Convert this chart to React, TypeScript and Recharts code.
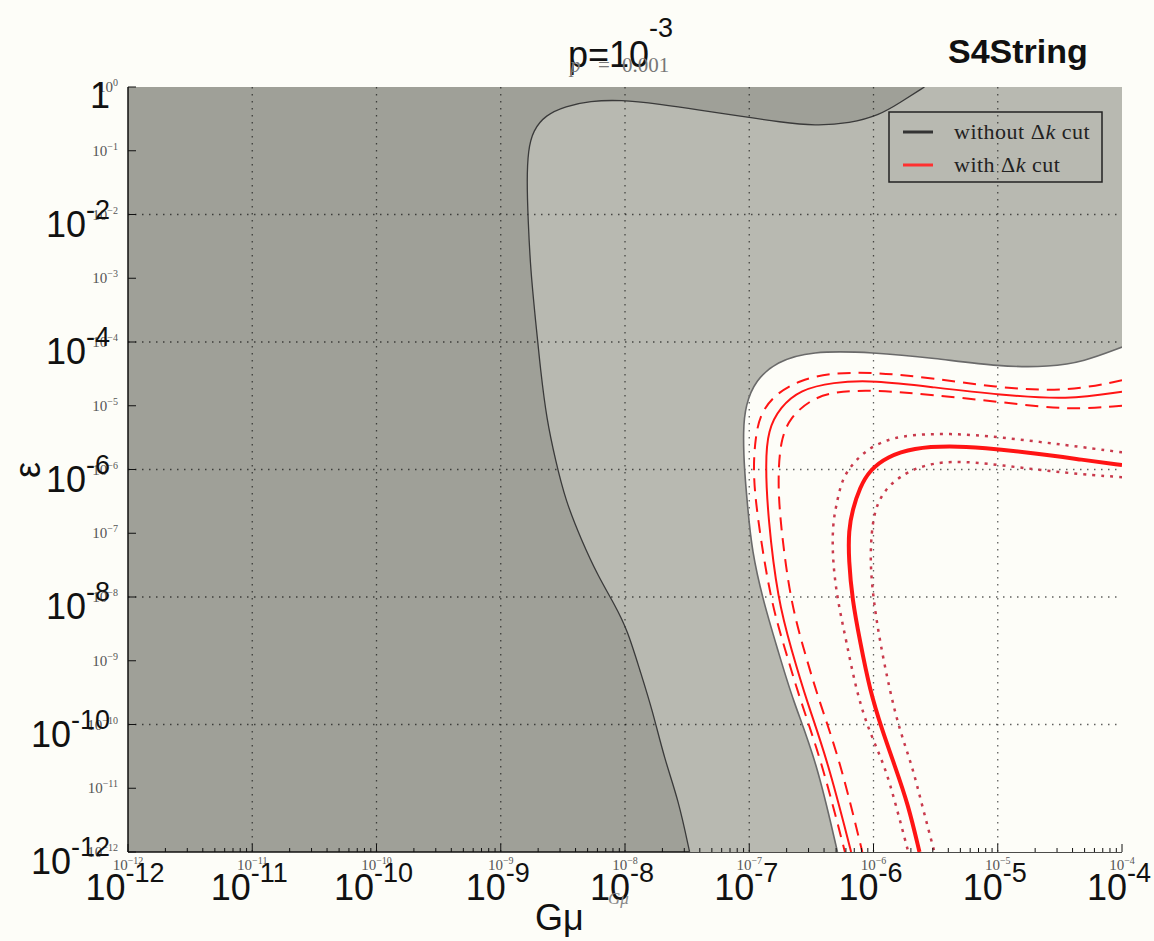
import React from 'react';
import { ScatterChart, Scatter, XAxis, YAxis, CartesianGrid, Curve } from 'recharts';

const W = 1154;
const H = 941;
const DARK = '#9fa098';
const LIGHT = '#b8b9b1';
const PAPER = '#fdfdf8';
const RED = '#ff1414';
const DOTRED = '#c93a4c';
const SANS = "'Liberation Sans', Arial, sans-serif";
const SERIF = "'Liberation Serif', 'Times New Roman', serif";

if (typeof document !== 'undefined') {
  document.body.style.margin = '0';
  document.body.style.background = PAPER;
}

// axes are in log10 units: x = log10(Gμ), y = log10(ε)
const X_MIN = -12;
const X_MAX = -4;
const Y_MIN = -12;
const Y_MAX = 0;
const X_MAJOR = [-12, -11, -10, -9, -8, -7, -6, -5, -4];
const Y_MAJOR = [0, -1, -2, -3, -4, -5, -6, -7, -8, -9, -10, -11, -12];
const X_GRID = [-11, -10, -9, -8, -7, -6, -5];
const Y_GRID = [-2, -4, -6, -8, -10];
const MINOR_FACTORS = [2, 3, 4, 5, 6, 7, 8, 9];
const X_MINOR = X_MAJOR.slice(0, -1).flatMap((d) => MINOR_FACTORS.map((f) => d + Math.log10(f)));
const X_TICKS = [...X_MAJOR, ...X_MINOR];

// boundary of the region allowed without the Δk cut
const NO_CUT_EDGE = [
  { x: -5.59, y: 0 }, { x: -5.79, y: -0.25 }, { x: -5.95, y: -0.44 }, { x: -6.19, y: -0.57 },
  { x: -6.47, y: -0.61 }, { x: -6.75, y: -0.55 }, { x: -7.07, y: -0.46 }, { x: -7.4, y: -0.36 },
  { x: -7.72, y: -0.27 }, { x: -8.04, y: -0.2 }, { x: -8.28, y: -0.22 }, { x: -8.48, y: -0.3 },
  { x: -8.64, y: -0.44 }, { x: -8.74, y: -0.68 }, { x: -8.78, y: -0.99 }, { x: -8.79, y: -1.46 },
  { x: -8.78, y: -2.09 }, { x: -8.76, y: -2.87 }, { x: -8.72, y: -3.66 }, { x: -8.68, y: -4.44 },
  { x: -8.63, y: -5.22 }, { x: -8.56, y: -5.85 }, { x: -8.48, y: -6.48 }, { x: -8.35, y: -7.11 },
  { x: -8.22, y: -7.66 }, { x: -8.08, y: -8.13 }, { x: -7.98, y: -8.52 }, { x: -7.88, y: -9.15 },
  { x: -7.78, y: -9.77 }, { x: -7.68, y: -10.56 }, { x: -7.57, y: -11.18 }, { x: -7.48, y: -12 },
];

// boundary of the white region
const CUT_EDGE = [
  { x: -4, y: -4.08 }, { x: -4.31, y: -4.31 }, { x: -4.58, y: -4.39 }, { x: -4.98, y: -4.39 },
  { x: -5.52, y: -4.25 }, { x: -6.0, y: -4.16 }, { x: -6.51, y: -4.14 }, { x: -6.78, y: -4.31 },
  { x: -6.95, y: -4.6 }, { x: -7.03, y: -4.99 }, { x: -7.05, y: -5.38 }, { x: -7.04, y: -6.01 },
  { x: -7.01, y: -6.64 }, { x: -6.98, y: -7.26 }, { x: -6.89, y: -8.05 }, { x: -6.77, y: -8.83 },
  { x: -6.65, y: -9.62 }, { x: -6.46, y: -10.56 }, { x: -6.29, y: -12 },
];

const RED_DASH_OUTER = [
  { x: -4, y: -4.6 }, { x: -4.44, y: -4.78 }, { x: -4.98, y: -4.72 }, { x: -5.52, y: -4.57 },
  { x: -6.0, y: -4.47 }, { x: -6.37, y: -4.49 }, { x: -6.59, y: -4.6 }, { x: -6.78, y: -4.8 },
  { x: -6.91, y: -5.11 }, { x: -6.95, y: -5.49 }, { x: -6.97, y: -6.01 }, { x: -6.94, y: -6.68 },
  { x: -6.83, y: -8.05 }, { x: -6.71, y: -8.83 }, { x: -6.59, y: -9.62 }, { x: -6.42, y: -10.56 },
  { x: -6.23, y: -12 },
];

const RED_THIN = [
  { x: -4, y: -4.78 }, { x: -4.44, y: -4.91 }, { x: -4.98, y: -4.83 }, { x: -5.52, y: -4.71 },
  { x: -6.0, y: -4.6 }, { x: -6.33, y: -4.63 }, { x: -6.59, y: -4.75 }, { x: -6.75, y: -5.02 },
  { x: -6.85, y: -5.38 }, { x: -6.87, y: -5.9 }, { x: -6.85, y: -6.75 }, { x: -6.77, y: -8.05 },
  { x: -6.66, y: -8.83 }, { x: -6.54, y: -9.62 }, { x: -6.37, y: -10.56 }, { x: -6.18, y: -12 },
];

const RED_DASH_INNER = [
  { x: -4, y: -5.0 }, { x: -4.44, y: -5.07 }, { x: -4.98, y: -4.94 }, { x: -5.52, y: -4.83 },
  { x: -6.0, y: -4.75 }, { x: -6.33, y: -4.78 }, { x: -6.51, y: -4.91 }, { x: -6.67, y: -5.18 },
  { x: -6.75, y: -5.54 }, { x: -6.77, y: -6.17 }, { x: -6.75, y: -6.84 }, { x: -6.67, y: -8.05 },
  { x: -6.56, y: -8.83 }, { x: -6.44, y: -9.62 }, { x: -6.27, y: -10.56 }, { x: -6.09, y: -12 },
];

const RED_THICK = [
  { x: -4, y: -5.93 }, { x: -4.31, y: -5.85 }, { x: -4.72, y: -5.74 }, { x: -5.12, y: -5.66 },
  { x: -5.38, y: -5.63 }, { x: -5.68, y: -5.66 }, { x: -5.89, y: -5.8 }, { x: -6.03, y: -6.01 },
  { x: -6.11, y: -6.28 }, { x: -6.17, y: -6.64 }, { x: -6.2, y: -6.95 }, { x: -6.2, y: -7.42 },
  { x: -6.17, y: -8.05 }, { x: -6.11, y: -8.68 }, { x: -6.03, y: -9.46 }, { x: -5.93, y: -10.09 },
  { x: -5.83, y: -10.64 }, { x: -5.72, y: -11.26 }, { x: -5.63, y: -12 },
];

const RED_DOT_OUTER = [
  { x: -4, y: -5.73 }, { x: -4.44, y: -5.62 }, { x: -4.98, y: -5.49 }, { x: -5.38, y: -5.43 },
  { x: -5.79, y: -5.46 }, { x: -6.0, y: -5.62 }, { x: -6.13, y: -5.82 }, { x: -6.25, y: -6.12 },
  { x: -6.29, y: -6.48 }, { x: -6.33, y: -6.84 }, { x: -6.33, y: -7.42 }, { x: -6.29, y: -8.05 },
  { x: -6.22, y: -8.68 }, { x: -6.14, y: -9.46 }, { x: -6.04, y: -10.09 }, { x: -5.91, y: -10.64 },
  { x: -5.82, y: -11.26 }, { x: -5.72, y: -12 },
];

const RED_DOT_INNER = [
  { x: -4, y: -6.12 }, { x: -4.44, y: -6.06 }, { x: -4.98, y: -5.93 }, { x: -5.38, y: -5.85 },
  { x: -5.65, y: -5.96 }, { x: -5.79, y: -6.12 }, { x: -5.89, y: -6.28 }, { x: -5.97, y: -6.53 },
  { x: -6.01, y: -6.84 }, { x: -6.03, y: -7.42 }, { x: -6.0, y: -8.05 }, { x: -5.95, y: -8.68 },
  { x: -5.87, y: -9.46 }, { x: -5.79, y: -10.09 }, { x: -5.69, y: -10.64 }, { x: -5.61, y: -11.26 },
  { x: -5.51, y: -12 },
];

const triple = (p: { x: number; y: number }) => [p, p, p];
const sharpEnds = (arr: { x: number; y: number }[]) => [arr[0], arr[0], ...arr, arr[arr.length - 1], arr[arr.length - 1]];

const NO_CUT_LINE = sharpEnds(NO_CUT_EDGE);
const CUT_LINE = sharpEnds(CUT_EDGE);
const LIGHT_FILL = [...NO_CUT_LINE, ...triple({ x: X_MAX, y: Y_MIN }), ...triple({ x: X_MAX, y: Y_MAX })];
const WHITE_FILL = [...CUT_LINE, ...triple({ x: X_MAX, y: Y_MIN })];
const V_GRID = X_GRID.flatMap((x) => [{ x, y: Y_MAX }, { x, y: Y_MIN }]);
const H_GRID = Y_GRID.flatMap((y) => [{ x: X_MIN, y }, { x: X_MAX, y }]);

const hidden = () => <g />;

const fillSeries = (key: string, data: any[], color: string) => (
  <Scatter
    key={key}
    data={data}
    xAxisId="b"
    yAxisId="l"
    isAnimationActive={false}
    shape={hidden}
    line={(p: any) => <Curve points={p.points} type="basis" fill={color} stroke="none" />}
  />
);

const lineSeries = (key: string, data: any[], color: string, width: number, dash?: string) => (
  <Scatter
    key={key}
    data={data}
    xAxisId="b"
    yAxisId="l"
    isAnimationActive={false}
    shape={hidden}
    line={(p: any) => (
      <Curve points={p.points} type="basis" fill="none" stroke={color} strokeWidth={width} strokeDasharray={dash} />
    )}
  />
);

const gridSeries = (key: string, data: any[]) => (
  <Scatter
    key={key}
    data={data}
    xAxisId="b"
    yAxisId="l"
    isAnimationActive={false}
    shape={hidden}
    line={(p: any) => {
      const pts = p.points || [];
      let d = '';
      for (let i = 0; i + 1 < pts.length; i += 2) {
        d += `M${pts[i].x},${pts[i].y}L${pts[i + 1].x},${pts[i + 1].y}`;
      }
      return <path d={d} fill="none" stroke="rgba(0,0,0,0.62)" strokeWidth={1.3} strokeDasharray="1.5 5.5" />;
    }}
  />
);

const isMajor = (v: number) => Math.abs(v - Math.round(v)) < 1e-6;

const BottomTick = (props: any) => {
  const { x, y, payload } = props;
  const v = payload.value;
  const n = Math.round(v);
  const major = isMajor(v);
  return (
    <g>
      <line x1={x} x2={x} y1={y} y2={y - (major ? 8 : 4)} stroke="#111" strokeWidth={1} />
      {major && (
        <text x={x} y={y + 18} textAnchor="middle" fontFamily={SERIF} fontSize={15} fill="#555">
          10<tspan dy={-6} fontSize={10}>{`\u2212${-n}`}</tspan>
        </text>
      )}
      {major && (
        <text x={x - 3} y={y + 48} textAnchor="middle" fontFamily={SANS} fontSize={36} fill="#111">
          10<tspan dy={-18} fontSize={27}>{`-${-n}`}</tspan>
        </text>
      )}
    </g>
  );
};

const TopTick = (props: any) => {
  const { x, y, payload } = props;
  const major = isMajor(payload.value);
  return <line x1={x} x2={x} y1={y} y2={y + (major ? 8 : 4)} stroke="#111" strokeWidth={1} />;
};

const LeftTick = (props: any) => {
  const { x, y, payload } = props;
  const n = Math.round(payload.value);
  const big = n % 2 === 0;
  return (
    <g>
      <line x1={x} x2={x + 8} y1={y} y2={y} stroke="#111" strokeWidth={1} />
      <text x={x - 10} y={y + 5} textAnchor="end" fontFamily={SERIF} fontSize={15} fill="#555">
        10<tspan dy={-6} fontSize={10}>{n === 0 ? '0' : `\u2212${-n}`}</tspan>
      </text>
      {big && n === 0 && (
        <text x={x - 18} y={y + 21} textAnchor="end" fontFamily={SANS} fontSize={36} fill="#111">
          1
        </text>
      )}
      {big && n !== 0 && (
        <text x={x - 18} y={y + 22} textAnchor="end" fontFamily={SANS} fontSize={36} fill="#111">
          10<tspan dy={-18} fontSize={27}>{`-${-n}`}</tspan>
        </text>
      )}
    </g>
  );
};

const RightTick = (props: any) => {
  const { x, y } = props;
  return <line x1={x} x2={x - 8} y1={y} y2={y} stroke="#111" strokeWidth={1} />;
};

const AXIS_LINE = { stroke: '#111', strokeWidth: 1.5 };

export default function App() {
  return (
    <div style={{ position: 'relative', width: W, height: H, background: PAPER, overflow: 'hidden' }}>
      <ScatterChart width={W} height={H} margin={{ top: 87, right: 32, bottom: 0, left: 0 }}>
        <CartesianGrid xAxisId="b" yAxisId="l" fill={DARK} fillOpacity={1} stroke="none" />
        <XAxis
          xAxisId="b"
          type="number"
          dataKey="x"
          domain={[X_MIN, X_MAX]}
          ticks={X_TICKS}
          interval={0}
          height={89}
          tickSize={0}
          tickMargin={0}
          tickLine={false}
          tick={BottomTick}
          axisLine={AXIS_LINE}
          allowDataOverflow
        />
        <XAxis
          xAxisId="t"
          orientation="top"
          type="number"
          dataKey="x"
          domain={[X_MIN, X_MAX]}
          ticks={X_TICKS}
          interval={0}
          height={0}
          tickSize={0}
          tickMargin={0}
          tickLine={false}
          tick={TopTick}
          axisLine={AXIS_LINE}
          allowDataOverflow
        />
        <YAxis
          yAxisId="l"
          type="number"
          dataKey="y"
          domain={[Y_MIN, Y_MAX]}
          ticks={Y_MAJOR}
          interval={0}
          width={128}
          tickSize={0}
          tickMargin={0}
          tickLine={false}
          tick={LeftTick}
          axisLine={AXIS_LINE}
          allowDataOverflow
        />
        <YAxis
          yAxisId="r"
          orientation="right"
          type="number"
          dataKey="y"
          domain={[Y_MIN, Y_MAX]}
          ticks={Y_MAJOR}
          interval={0}
          width={0}
          tickSize={0}
          tickMargin={0}
          tickLine={false}
          tick={RightTick}
          axisLine={AXIS_LINE}
          allowDataOverflow
        />
        {fillSeries('light', LIGHT_FILL, LIGHT)}
        {fillSeries('white', WHITE_FILL, PAPER)}
        {gridSeries('vgrid', V_GRID)}
        {gridSeries('hgrid', H_GRID)}
        {lineSeries('nocut', NO_CUT_LINE, '#3a3a3a', 1.3)}
        {lineSeries('cut', CUT_LINE, '#6a6a6a', 1.6)}
        {lineSeries('dashOuter', sharpEnds(RED_DASH_OUTER), RED, 2, '13 8')}
        {lineSeries('thin', sharpEnds(RED_THIN), RED, 2)}
        {lineSeries('dashInner', sharpEnds(RED_DASH_INNER), RED, 2, '13 8')}
        {lineSeries('dotOuter', sharpEnds(RED_DOT_OUTER), DOTRED, 2.5, '3 6')}
        {lineSeries('dotInner', sharpEnds(RED_DOT_INNER), DOTRED, 2.5, '3 6')}
        {lineSeries('thick', sharpEnds(RED_THICK), RED, 4)}
      </ScatterChart>
      <svg width={W} height={H} style={{ position: 'absolute', left: 0, top: 0, pointerEvents: 'none' }}>
        <text x={568} y={67} fontFamily={SANS} fontSize={36} fill="#111">p=10</text>
        <text x={649} y={37} fontFamily={SANS} fontSize={27} fill="#111">-3</text>
        <text x={570} y={72} fontFamily={SERIF} fontSize={21} fill="#777" fontStyle="italic">p</text>
        <text x={598} y={72} fontFamily={SERIF} fontSize={21} fill="#777">=</text>
        <text x={622} y={72} fontFamily={SERIF} fontSize={21} fill="#777">0.001</text>
        <text x={948} y={63} fontFamily={SANS} fontWeight="bold" fontSize={34} fill="#111">S4String</text>
        <text x={27} y={470} transform="rotate(-90 27 470)" textAnchor="middle" dominantBaseline="central" fontFamily={SANS} fontSize={36} fill="#111">ε</text>
        <text x={535} y={930} fontFamily={SANS} fontSize={36} fill="#111">Gμ</text>
        <text x={608} y={904} fontFamily={SERIF} fontSize={17} fill="#888" fontStyle="italic">Gμ</text>
        <rect x={889} y={112} width={213} height={70} fill="none" stroke="#222" strokeWidth={1.5} />
        <line x1={903} x2={933} y1={132} y2={132} stroke="#333" strokeWidth={3} />
        <line x1={903} x2={933} y1={165} y2={165} stroke="#ff3030" strokeWidth={3} />
        <text x={954} y={139} fontFamily={SERIF} fontSize={22} letterSpacing={0.5} fill="#222">
          without Δ<tspan fontStyle="italic">k</tspan> cut
        </text>
        <text x={954} y={172} fontFamily={SERIF} fontSize={22} letterSpacing={0.5} fill="#222">
          with Δ<tspan fontStyle="italic">k</tspan> cut
        </text>
      </svg>
    </div>
  );
}
